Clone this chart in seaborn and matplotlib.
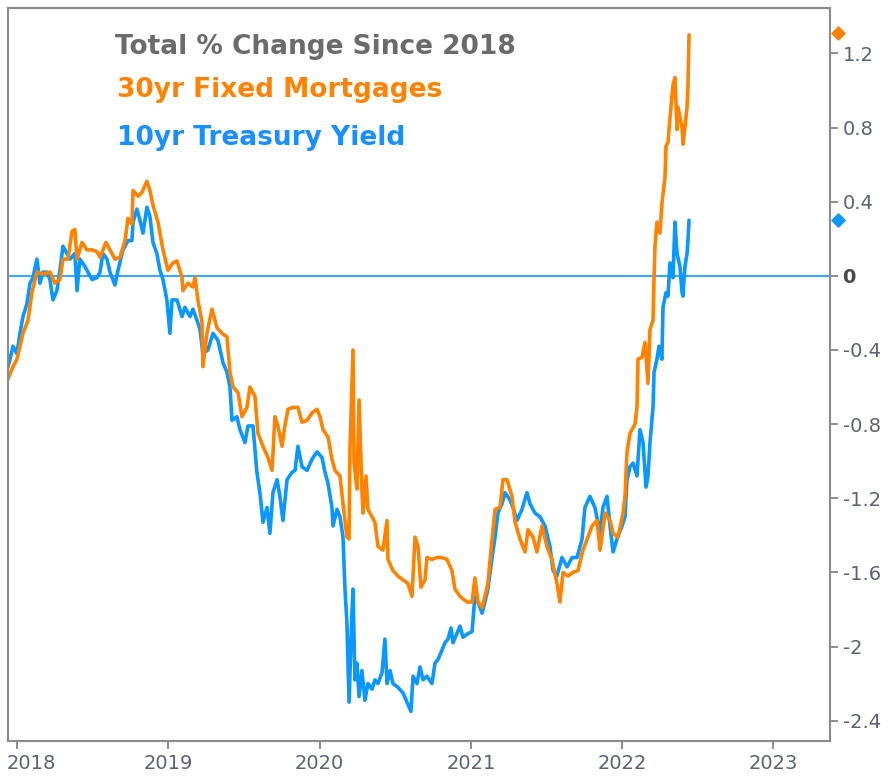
import pandas as pd
import seaborn as sns
import matplotlib.pyplot as plt
import matplotlib.transforms as mtransforms

# decimal-year dates and % change since 2018
mort_x = [2017.934, 2017.974, 2018.000, 2018.020, 2018.040, 2018.073, 2018.099, 2018.132, 2018.172, 2018.218,
          2018.251, 2018.284, 2018.304, 2018.337, 2018.364, 2018.383, 2018.397, 2018.430, 2018.463, 2018.496,
          2018.529, 2018.549, 2018.588, 2018.615, 2018.648, 2018.681, 2018.714, 2018.734, 2018.760, 2018.767,
          2018.800, 2018.826, 2018.859, 2018.879, 2018.899, 2018.932, 2018.965, 2018.998, 2019.031, 2019.058,
          2019.091, 2019.097, 2019.130, 2019.163, 2019.177, 2019.196, 2019.223, 2019.229, 2019.256, 2019.289,
          2019.322, 2019.355, 2019.388, 2019.408, 2019.428, 2019.461, 2019.487, 2019.520, 2019.540, 2019.573,
          2019.593, 2019.626, 2019.659, 2019.686, 2019.705, 2019.725, 2019.752, 2019.771, 2019.791, 2019.824,
          2019.857, 2019.884, 2019.917, 2019.950, 2019.983, 2020.003, 2020.023, 2020.056, 2020.082, 2020.102,
          2020.135, 2020.155, 2020.181, 2020.195, 2020.201, 2020.221, 2020.228, 2020.247, 2020.261, 2020.280,
          2020.287, 2020.307, 2020.320, 2020.347, 2020.366, 2020.386, 2020.419, 2020.446, 2020.452, 2020.485,
          2020.518, 2020.551, 2020.584, 2020.611, 2020.631, 2020.651, 2020.670, 2020.697, 2020.710, 2020.743,
          2020.776, 2020.809, 2020.842, 2020.875, 2020.895, 2020.928, 2020.975, 2021.008, 2021.027, 2021.047,
          2021.074, 2021.093, 2021.113, 2021.140, 2021.160, 2021.193, 2021.212, 2021.239, 2021.272, 2021.292,
          2021.325, 2021.358, 2021.378, 2021.411, 2021.437, 2021.470, 2021.503, 2021.536, 2021.569, 2021.589,
          2021.609, 2021.642, 2021.675, 2021.708, 2021.741, 2021.774, 2021.801, 2021.834, 2021.854, 2021.887,
          2021.920, 2021.940, 2021.973, 2022.006, 2022.019, 2022.032, 2022.052, 2022.085, 2022.098, 2022.105,
          2022.131, 2022.151, 2022.171, 2022.184, 2022.204, 2022.211, 2022.217, 2022.230, 2022.250, 2022.263,
          2022.283, 2022.290, 2022.303, 2022.316, 2022.336, 2022.349, 2022.363, 2022.369, 2022.396, 2022.402,
          2022.415, 2022.429, 2022.435, 2022.442]
mort_y = [-0.57, -0.49, -0.45, -0.38, -0.31, -0.24, -0.09, 0.02, 0.01, 0.02,
          -0.04, -0.02, 0.09, 0.09, 0.24, 0.25, 0.09, 0.18, 0.14, 0.14,
          0.13, 0.10, 0.18, 0.14, 0.09, 0.10, 0.19, 0.31, 0.28, 0.46,
          0.43, 0.45, 0.51, 0.46, 0.38, 0.29, 0.14, 0.03, 0.07, 0.08,
          -0.01, -0.08, -0.04, -0.06, -0.01, -0.13, -0.25, -0.49, -0.31, -0.18,
          -0.28, -0.31, -0.33, -0.52, -0.60, -0.63, -0.76, -0.71, -0.60, -0.65,
          -0.85, -0.92, -0.98, -1.05, -0.76, -0.81, -0.92, -0.81, -0.72, -0.71,
          -0.71, -0.79, -0.78, -0.74, -0.72, -0.76, -0.83, -0.87, -0.99, -1.05,
          -1.08, -1.23, -1.41, -1.42, -0.94, -0.40, -1.01, -1.15, -0.67, -1.15,
          -1.28, -1.08, -1.26, -1.30, -1.33, -1.46, -1.48, -1.32, -1.53, -1.59,
          -1.62, -1.64, -1.66, -1.73, -1.41, -1.46, -1.68, -1.64, -1.52, -1.53,
          -1.52, -1.52, -1.53, -1.59, -1.69, -1.73, -1.76, -1.76, -1.63, -1.76,
          -1.79, -1.73, -1.66, -1.42, -1.26, -1.25, -1.10, -1.10, -1.19, -1.33,
          -1.42, -1.49, -1.37, -1.41, -1.49, -1.35, -1.46, -1.53, -1.66, -1.76,
          -1.60, -1.62, -1.60, -1.59, -1.48, -1.41, -1.35, -1.32, -1.48, -1.28,
          -1.32, -1.39, -1.41, -1.28, -1.19, -0.95, -0.85, -0.80, -0.71, -0.45,
          -0.44, -0.36, -0.58, -0.29, -0.24, -0.01, 0.16, 0.29, 0.23, 0.39,
          0.53, 0.70, 0.72, 0.85, 1.03, 1.07, 0.79, 0.91, 0.80, 0.71,
          0.80, 0.91, 1.02, 1.30]

tsy_x = [2017.934, 2017.954, 2017.974, 2018.000, 2018.020, 2018.040, 2018.066, 2018.086, 2018.106, 2018.132,
         2018.152, 2018.172, 2018.198, 2018.218, 2018.238, 2018.264, 2018.284, 2018.304, 2018.331, 2018.350,
         2018.383, 2018.397, 2018.416, 2018.449, 2018.469, 2018.496, 2018.529, 2018.549, 2018.568, 2018.595,
         2018.615, 2018.648, 2018.668, 2018.701, 2018.734, 2018.760, 2018.767, 2018.793, 2018.813, 2018.833,
         2018.859, 2018.879, 2018.899, 2018.925, 2018.945, 2018.965, 2018.991, 2019.011, 2019.025, 2019.058,
         2019.091, 2019.110, 2019.144, 2019.163, 2019.190, 2019.210, 2019.229, 2019.262, 2019.296, 2019.329,
         2019.362, 2019.388, 2019.408, 2019.421, 2019.454, 2019.474, 2019.507, 2019.527, 2019.560, 2019.586,
         2019.606, 2019.626, 2019.653, 2019.672, 2019.692, 2019.719, 2019.738, 2019.758, 2019.785, 2019.818,
         2019.838, 2019.857, 2019.884, 2019.917, 2019.950, 2019.983, 2020.016, 2020.036, 2020.056, 2020.082,
         2020.089, 2020.115, 2020.135, 2020.155, 2020.168, 2020.181, 2020.188, 2020.195, 2020.214, 2020.221,
         2020.234, 2020.247, 2020.261, 2020.280, 2020.300, 2020.320, 2020.347, 2020.366, 2020.386, 2020.413,
         2020.432, 2020.446, 2020.466, 2020.485, 2020.518, 2020.551, 2020.578, 2020.604, 2020.618, 2020.644,
         2020.664, 2020.684, 2020.710, 2020.743, 2020.763, 2020.783, 2020.809, 2020.829, 2020.849, 2020.869,
         2020.882, 2020.908, 2020.928, 2020.948, 2020.981, 2021.008, 2021.027, 2021.047, 2021.074, 2021.093,
         2021.113, 2021.140, 2021.160, 2021.179, 2021.206, 2021.226, 2021.259, 2021.279, 2021.305, 2021.338,
         2021.371, 2021.391, 2021.424, 2021.457, 2021.490, 2021.523, 2021.543, 2021.569, 2021.602, 2021.636,
         2021.669, 2021.702, 2021.735, 2021.754, 2021.787, 2021.820, 2021.854, 2021.873, 2021.900, 2021.920,
         2021.940, 2021.966, 2021.999, 2022.019, 2022.032, 2022.052, 2022.072, 2022.098, 2022.118, 2022.138,
         2022.158, 2022.171, 2022.184, 2022.204, 2022.211, 2022.230, 2022.244, 2022.263, 2022.270, 2022.290,
         2022.303, 2022.316, 2022.336, 2022.349, 2022.363, 2022.382, 2022.396, 2022.402, 2022.415, 2022.429,
         2022.435, 2022.442]
tsy_y = [-0.51, -0.45, -0.38, -0.42, -0.31, -0.22, -0.15, -0.04, -0.01, 0.09,
         -0.04, 0.02, 0.02, -0.02, -0.13, -0.08, 0.03, 0.16, 0.12, 0.09,
         0.12, -0.08, 0.09, 0.05, 0.02, -0.02, -0.01, 0.02, 0.12, 0.09,
         0.02, -0.05, 0.03, 0.14, 0.19, 0.19, 0.29, 0.36, 0.30, 0.23,
         0.37, 0.32, 0.18, 0.12, 0.03, -0.02, -0.13, -0.31, -0.13, -0.13,
         -0.22, -0.17, -0.22, -0.18, -0.24, -0.29, -0.42, -0.40, -0.31, -0.35,
         -0.47, -0.52, -0.60, -0.78, -0.76, -0.83, -0.90, -0.81, -0.81, -1.06,
         -1.17, -1.33, -1.25, -1.39, -1.17, -1.10, -1.19, -1.32, -1.10, -1.06,
         -1.05, -0.92, -1.03, -1.05, -0.99, -0.95, -0.98, -1.06, -1.12, -1.25,
         -1.35, -1.26, -1.30, -1.41, -1.69, -1.87, -2.09, -2.30, -1.82, -1.69,
         -2.18, -2.09, -2.27, -2.13, -2.29, -2.20, -2.23, -2.18, -2.20, -2.14,
         -1.96, -2.20, -2.13, -2.20, -2.22, -2.25, -2.30, -2.35, -2.16, -2.20,
         -2.11, -2.18, -2.16, -2.20, -2.09, -2.07, -2.02, -1.98, -1.96, -1.90,
         -1.98, -1.93, -1.89, -1.95, -1.93, -1.92, -1.73, -1.76, -1.82, -1.76,
         -1.69, -1.52, -1.41, -1.28, -1.23, -1.17, -1.21, -1.25, -1.32, -1.26,
         -1.17, -1.23, -1.28, -1.30, -1.35, -1.46, -1.59, -1.62, -1.52, -1.57,
         -1.52, -1.52, -1.42, -1.25, -1.19, -1.25, -1.39, -1.25, -1.19, -1.35,
         -1.49, -1.42, -1.35, -1.30, -1.10, -1.03, -1.01, -1.08, -0.83, -0.90,
         -1.14, -1.08, -0.90, -0.71, -0.52, -0.45, -0.38, -0.45, -0.17, -0.09,
         -0.11, 0.07, -0.01, 0.29, 0.12, 0.05, -0.09, -0.11, 0.05, 0.12,
         0.19, 0.30]

year_ticks = [2018, 2019, 2020, 2021, 2022, 2023]
value_ticks = [-2.4, -2, -1.6, -1.2, -0.8, -0.4, 0, 0.4, 0.8, 1.2]
value_labels = ["-2.4", "-2", "-1.6", "-1.2", "-0.8", "-0.4", "0", "0.4", "0.8", "1.2"]

ORANGE = "#FF8300"
BLUE = "#0A97FF"

df = pd.concat([
    pd.DataFrame({"year": mort_x, "change": mort_y, "series": "30yr Fixed Mortgages"}),
    pd.DataFrame({"year": tsy_x, "change": tsy_y, "series": "10yr Treasury Yield"}),
])

sns.set_theme(style="white")
plt.rcParams['font.family'] = ['DejaVu Sans']

fig = plt.figure(figsize=(8.9, 7.83), dpi=100)
ax = fig.add_axes([0.009, 0.0536, 0.9236, 0.9362])

ax.axhline(0, color="#3AA8FF", lw=1.5, zorder=1)
sns.lineplot(data=df, x="year", y="change", hue="series",
             palette={"30yr Fixed Mortgages": ORANGE, "10yr Treasury Yield": BLUE},
             hue_order=["10yr Treasury Yield", "30yr Fixed Mortgages"],
             estimator=None, sort=False, linewidth=2.6, legend=False, ax=ax)

ax.set_xlim(2017.941, 2023.374)
ax.set_ylim(-2.51, 1.445)
ax.set_xlabel("")
ax.set_ylabel("")

ax.yaxis.tick_right()
ax.set_yticks(value_ticks)
ax.set_yticklabels(value_labels)
ax.set_xticks(year_ticks)
ax.set_xticklabels([str(y) for y in year_ticks])
ax.tick_params(axis="both", which="major", direction="out", length=6, width=1.2,
               color="#7a7a7a", labelsize=14, labelcolor="#5b6270", pad=3,
               bottom=True, right=True, left=False)
for lbl in ax.get_yticklabels():
    if lbl.get_text() == "0":
        lbl.set_fontweight("bold")
        lbl.set_color("#4a4a4a")

# first year label sits a little inside so it is not cut at the edge
first = ax.get_xticklabels()[0]
first.set_transform(first.get_transform() + mtransforms.ScaledTranslation(0.14, 0, fig.dpi_scale_trans))

for sp in ax.spines.values():
    sp.set_color("#8a8a8a")
    sp.set_linewidth(1.5)

# end-of-series markers on the right axis
trans = mtransforms.blended_transform_factory(ax.transAxes, ax.transData)
ax.scatter([1.0097], [1.31], marker="D", s=45, color=ORANGE, transform=trans, clip_on=False, zorder=5)
ax.scatter([1.0097], [0.30], marker="D", s=45, color=BLUE, transform=trans, clip_on=False, zorder=5)

ax.text(0.130, 0.947, "Total % Change Since 2018", transform=ax.transAxes, fontsize=19,
        fontweight="bold", color="#6b6b6b", va="center", ha="left")
ax.text(0.132, 0.888, "30yr Fixed Mortgages", transform=ax.transAxes, fontsize=19,
        fontweight="bold", color=ORANGE, va="center", ha="left")
ax.text(0.133, 0.823, "10yr Treasury Yield", transform=ax.transAxes, fontsize=19,
        fontweight="bold", color="#1A8FFF", va="center", ha="left")

fig.savefig("out.png", dpi=100)
